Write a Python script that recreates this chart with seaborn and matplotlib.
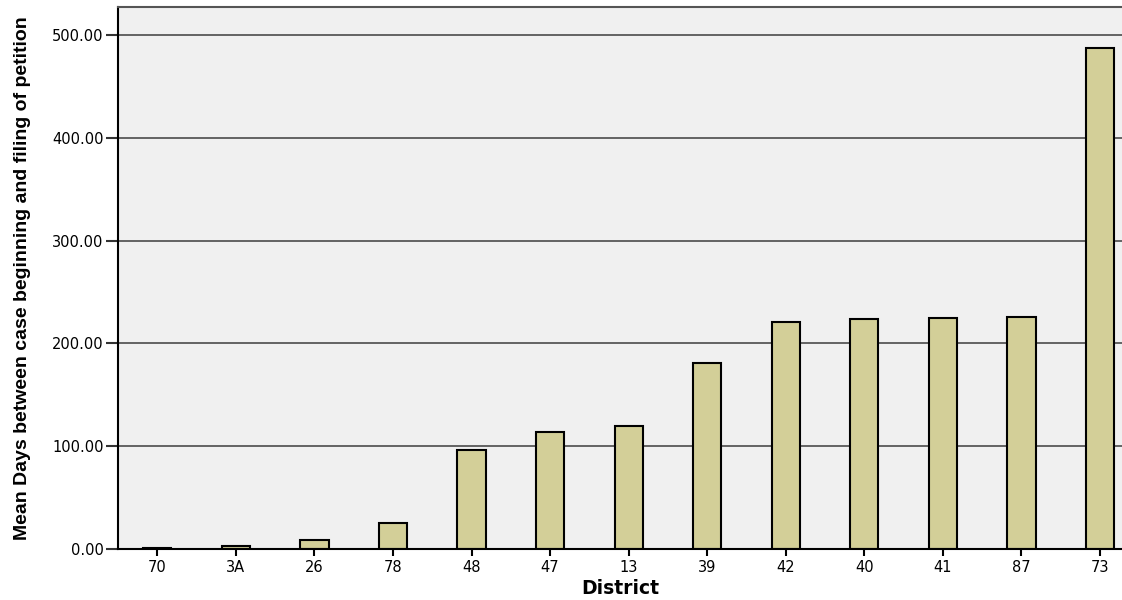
import pandas as pd
import seaborn as sns
import matplotlib.pyplot as plt
from matplotlib.ticker import FormatStrFormatter

districts = ['70', '3A', '26', '78', '48', '47', '13', '39', '42', '40', '41', '87', '73']
mean_days = [1, 3, 9, 25, 96, 114, 120, 181, 221, 224, 225, 226, 487]

df = pd.DataFrame({'District': districts, 'MeanDays': mean_days})

sns.set_style('white')
plt.rcParams['font.family'] = ['DejaVu Sans']
plt.rcParams['text.color'] = 'black'
plt.rcParams['axes.labelcolor'] = 'black'
plt.rcParams['xtick.labelcolor'] = 'black'
plt.rcParams['ytick.labelcolor'] = 'black'

fig = plt.figure(figsize=(11.22, 6), dpi=100)
ax = fig.add_axes([0.1052, 0.085, 0.8948, 0.903])
ax.set_facecolor('#f0f0f0')

ax.set_axisbelow(True)
ax.yaxis.grid(True, color='#3c3c3c', linewidth=1.1)
ax.xaxis.grid(False)

sns.barplot(data=df, x='District', y='MeanDays', order=districts, color='#d3cf98',
            saturation=1, width=0.36, edgecolor='black', linewidth=1.5, ax=ax)

ax.set_ylim(0, 527)
ax.set_xlim(-0.5, 12.28)
ax.set_yticks([0, 100, 200, 300, 400, 500])
ax.yaxis.set_major_formatter(FormatStrFormatter('%.2f'))

for side in ['left', 'bottom']:
    ax.spines[side].set_color('black')
    ax.spines[side].set_linewidth(1.5)
ax.spines['top'].set_color('#555555')
ax.spines['top'].set_linewidth(1.5)
ax.spines['right'].set_visible(False)

ax.tick_params(axis='x', direction='out', length=5, width=1.5, color='black',
               labelcolor='black', labelsize=10.5, pad=3, bottom=True)
ax.tick_params(axis='y', direction='out', length=8.5, width=1.5, color='#333333',
               labelcolor='black', labelsize=10.5, pad=2, left=True)

ax.set_xlabel('District', fontsize=13.5, fontweight='bold', labelpad=3, color='black')
ax.set_ylabel('Mean Days between case beginning and filing of petition',
              fontsize=14, fontweight='bold', color='black',
              family=['Liberation Sans Narrow', 'Liberation Sans', 'DejaVu Sans'])
ax.yaxis.set_label_coords(-0.087, 0.5)

fig.savefig('out.png', dpi=100)
